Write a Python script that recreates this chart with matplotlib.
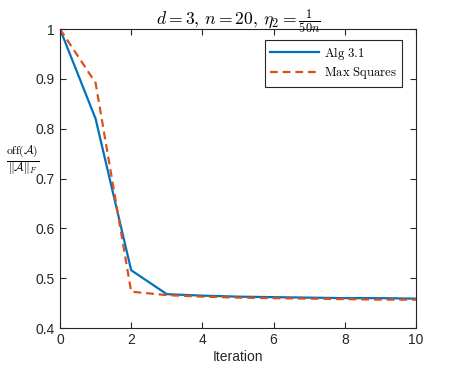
import matplotlib
matplotlib.use("Agg")
import matplotlib.pyplot as plt

plt.rcParams["font.family"] = ["Liberation Sans", "DejaVu Sans"]
plt.rcParams["mathtext.fontset"] = "cm"

# data
iters = [0, 1, 2, 3, 4, 5, 6, 7, 8, 9, 10]
alg31 = [1.0, 0.820, 0.516, 0.468, 0.465, 0.463, 0.462, 0.461, 0.460, 0.460, 0.459]
max_sq = [1.0, 0.892, 0.473, 0.466, 0.463, 0.461, 0.460, 0.459, 0.458, 0.457, 0.457]

fig = plt.figure(figsize=(4.6, 3.69), dpi=100)
ax = fig.add_axes([0.1304, 0.111, 0.7739, 0.8103])

ax.plot(iters, alg31, color="#0072BD", lw=1.6, label=r"$\mathrm{Alg\ 3.1}$")
ax.plot(iters, max_sq, color="#D95319", lw=1.6, ls=(0, (3.5, 2.2)),
        label=r"$\mathrm{Max\ Squares}$")

ax.set_xlim(0, 10)
ax.set_ylim(0.4, 1.0)
ax.set_xticks([0, 2, 4, 6, 8, 10])
ax.set_yticks([0.4, 0.5, 0.6, 0.7, 0.8, 0.9, 1.0])
ax.set_yticklabels(["0.4", "0.5", "0.6", "0.7", "0.8", "0.9", "1"])

grey = "#262626"
for s in ax.spines.values():
    s.set_color(grey)
    s.set_linewidth(0.8)
ax.tick_params(direction="in", top=True, right=True, length=4, width=0.8,
               colors=grey, labelsize=10)

ax.set_xlabel("Iteration", fontsize=10, color=grey, labelpad=2)
ax.set_ylabel(r"$\frac{\mathrm{off}(\mathcal{A})}{\|\mathcal{A}\|_F}$", fontsize=12,
              rotation=0, color="black", va="center", ha="center")
ax.yaxis.set_label_coords(-0.105, 0.56)
ax.set_title(r"$d=3,\,n=20,\,\eta_2=\frac{1}{50n}$", fontsize=12.7, pad=3)

leg = ax.legend(loc="upper right", bbox_to_anchor=(0.962, 0.965),
                borderaxespad=0, fontsize=9.2, fancybox=False,
                framealpha=1, edgecolor=grey, handlelength=3.8,
                borderpad=0.4, labelspacing=0.3, handletextpad=0.45)
leg.get_frame().set_linewidth(0.8)

fig.savefig("out.png", dpi=100)
